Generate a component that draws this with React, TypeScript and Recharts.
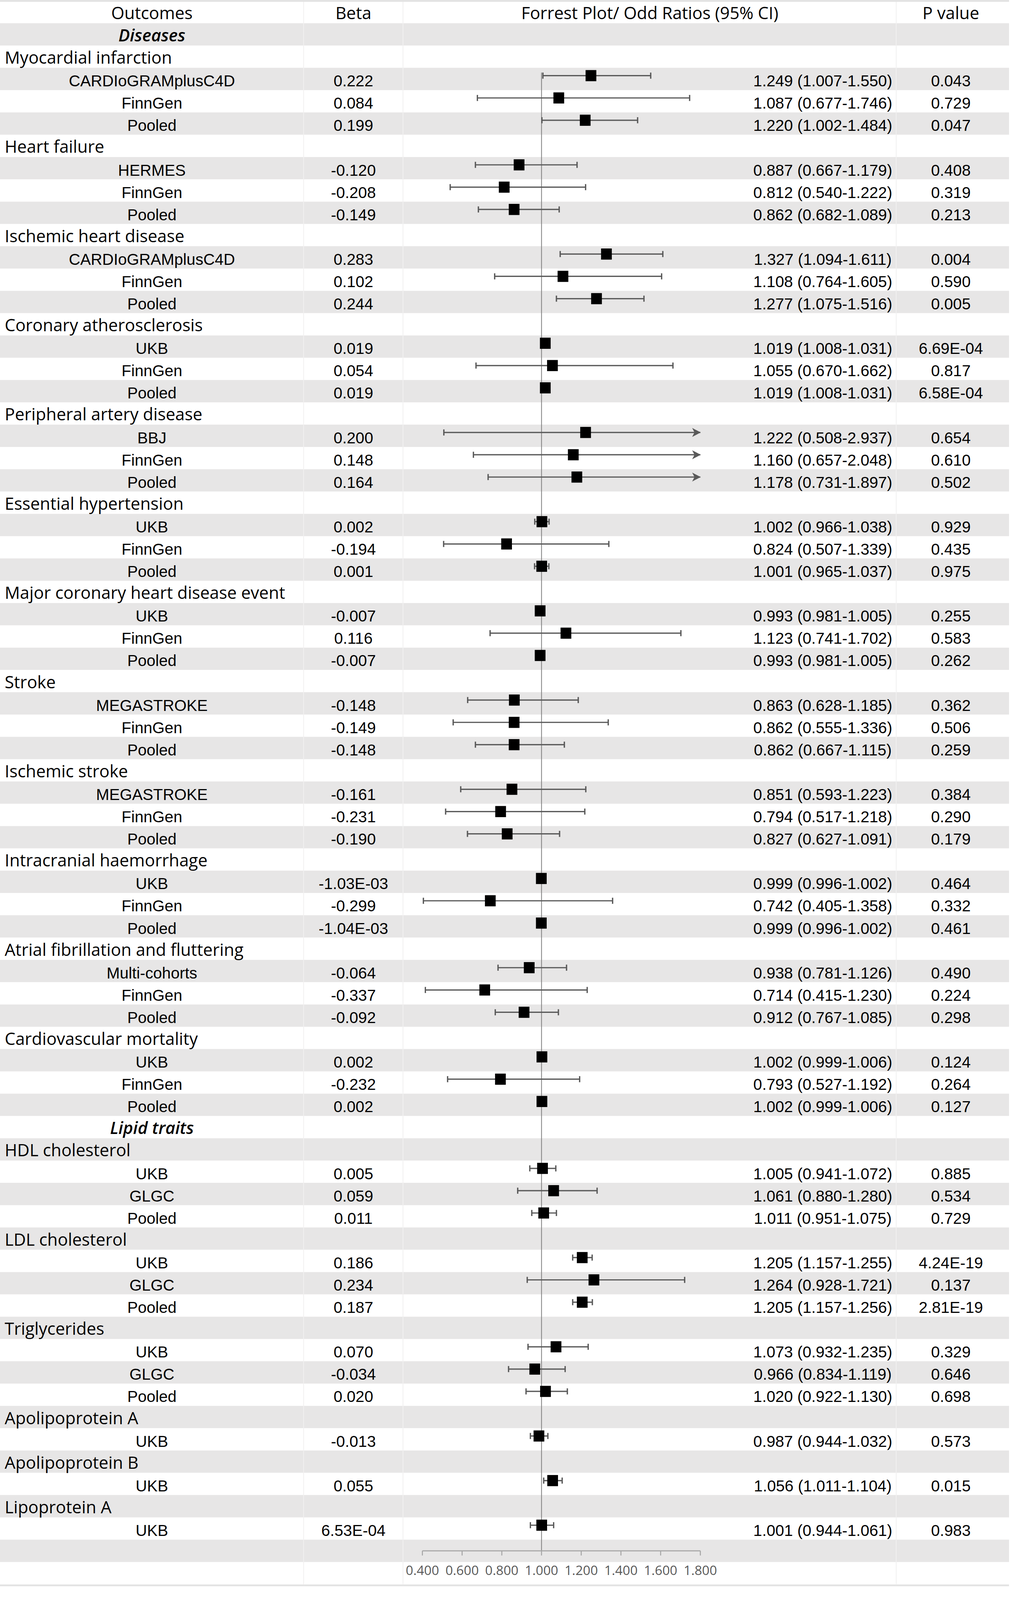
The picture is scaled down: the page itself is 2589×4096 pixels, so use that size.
import React from 'react';
import { ScatterChart, Scatter, XAxis, YAxis, ReferenceArea, ReferenceLine } from 'recharts';

// ---------------- data ----------------
const HEADERS = ['Outcomes', 'Beta', 'Forrest Plot/ Odd Ratios (95% CI)', 'P value'];
const SECTION_NAMES = ['Diseases', 'Lipid traits'];
const OUTCOME_NAMES = [
  'Myocardial infarction',
  'Heart failure',
  'Ischemic heart disease',
  'Coronary atherosclerosis',
  'Peripheral artery disease',
  'Essential hypertension',
  'Major coronary heart disease event',
  'Stroke',
  'Ischemic stroke',
  'Intracranial haemorrhage',
  'Atrial fibrillation and fluttering',
  'Cardiovascular mortality',
  'HDL cholesterol',
  'LDL cholesterol',
  'Triglycerides',
  'Apolipoprotein A',
  'Apolipoprotein B',
  'Lipoprotein A',
];
const OUTCOME_SECTION = [0, 0, 0, 0, 0, 0, 0, 0, 0, 0, 0, 0, 1, 1, 1, 1, 1, 1];
const OUTCOME_SIZES = [3, 3, 3, 3, 3, 3, 3, 3, 3, 3, 3, 3, 3, 3, 3, 1, 1, 1];

const COHORTS = [
  'CARDIoGRAMplusC4D', 'FinnGen', 'Pooled',
  'HERMES', 'FinnGen', 'Pooled',
  'CARDIoGRAMplusC4D', 'FinnGen', 'Pooled',
  'UKB', 'FinnGen', 'Pooled',
  'BBJ', 'FinnGen', 'Pooled',
  'UKB', 'FinnGen', 'Pooled',
  'UKB', 'FinnGen', 'Pooled',
  'MEGASTROKE', 'FinnGen', 'Pooled',
  'MEGASTROKE', 'FinnGen', 'Pooled',
  'UKB', 'FinnGen', 'Pooled',
  'Multi-cohorts', 'FinnGen', 'Pooled',
  'UKB', 'FinnGen', 'Pooled',
  'UKB', 'GLGC', 'Pooled',
  'UKB', 'GLGC', 'Pooled',
  'UKB', 'GLGC', 'Pooled',
  'UKB',
  'UKB',
  'UKB',
];
const BETAS = [
  '0.222', '0.084', '0.199',
  '-0.120', '-0.208', '-0.149',
  '0.283', '0.102', '0.244',
  '0.019', '0.054', '0.019',
  '0.200', '0.148', '0.164',
  '0.002', '-0.194', '0.001',
  '-0.007', '0.116', '-0.007',
  '-0.148', '-0.149', '-0.148',
  '-0.161', '-0.231', '-0.190',
  '-1.03E-03', '-0.299', '-1.04E-03',
  '-0.064', '-0.337', '-0.092',
  '0.002', '-0.232', '0.002',
  '0.005', '0.059', '0.011',
  '0.186', '0.234', '0.187',
  '0.070', '-0.034', '0.020',
  '-0.013',
  '0.055',
  '6.53E-04',
];
const ODDS = [
  1.249, 1.087, 1.220,
  0.887, 0.812, 0.862,
  1.327, 1.108, 1.277,
  1.019, 1.055, 1.019,
  1.222, 1.160, 1.178,
  1.002, 0.824, 1.001,
  0.993, 1.123, 0.993,
  0.863, 0.862, 0.862,
  0.851, 0.794, 0.827,
  0.999, 0.742, 0.999,
  0.938, 0.714, 0.912,
  1.002, 0.793, 1.002,
  1.005, 1.061, 1.011,
  1.205, 1.264, 1.205,
  1.073, 0.966, 1.020,
  0.987,
  1.056,
  1.001,
];
const LOWER = [
  1.007, 0.677, 1.002,
  0.667, 0.540, 0.682,
  1.094, 0.764, 1.075,
  1.008, 0.670, 1.008,
  0.508, 0.657, 0.731,
  0.966, 0.507, 0.965,
  0.981, 0.741, 0.981,
  0.628, 0.555, 0.667,
  0.593, 0.517, 0.627,
  0.996, 0.405, 0.996,
  0.781, 0.415, 0.767,
  0.999, 0.527, 0.999,
  0.941, 0.880, 0.951,
  1.157, 0.928, 1.157,
  0.932, 0.834, 0.922,
  0.944,
  1.011,
  0.944,
];
const UPPER = [
  1.550, 1.746, 1.484,
  1.179, 1.222, 1.089,
  1.611, 1.605, 1.516,
  1.031, 1.662, 1.031,
  2.937, 2.048, 1.897,
  1.038, 1.339, 1.037,
  1.005, 1.702, 1.005,
  1.185, 1.336, 1.115,
  1.223, 1.218, 1.091,
  1.002, 1.358, 1.002,
  1.126, 1.230, 1.085,
  1.006, 1.192, 1.006,
  1.072, 1.280, 1.075,
  1.255, 1.721, 1.256,
  1.235, 1.119, 1.130,
  1.032,
  1.104,
  1.061,
];
const P_VALUES = [
  '0.043', '0.729', '0.047',
  '0.408', '0.319', '0.213',
  '0.004', '0.590', '0.005',
  '6.69E-04', '0.817', '6.58E-04',
  '0.654', '0.610', '0.502',
  '0.929', '0.435', '0.975',
  '0.255', '0.583', '0.262',
  '0.362', '0.506', '0.259',
  '0.384', '0.290', '0.179',
  '0.464', '0.332', '0.461',
  '0.490', '0.224', '0.298',
  '0.124', '0.264', '0.127',
  '0.885', '0.534', '0.729',
  '4.24E-19', '0.137', '2.81E-19',
  '0.329', '0.646', '0.698',
  '0.573',
  '0.015',
  '0.983',
];
const X_TICKS = [0.4, 0.6, 0.8, 1.0, 1.2, 1.4, 1.6, 1.8];

// ---------------- layout / style ----------------
const W = 2589;
const H = 4096;
const ROW_PX = 57.09;
const TOP = 2.33;
const X_AT_FIRST_TICK = 1081.7;
const PX_PER_UNIT = 508.4;
const PLOT_RIGHT = 2584;
const X_MIN_TICK = X_TICKS[0];
const X_MAX_TICK = X_TICKS[X_TICKS.length - 1];
const XMIN = X_MIN_TICK - X_AT_FIRST_TICK / PX_PER_UNIT;
const XMAX = X_MIN_TICK + (PLOT_RIGHT - X_AT_FIRST_TICK) / PX_PER_UNIT;
const pxToVal = (px: number) => X_MIN_TICK + (px - X_AT_FIRST_TICK) / PX_PER_UNIT;

const OPEN = "'Open Sans', 'Noto Sans', sans-serif";
const LIB = "'Liberation Sans', Arial, sans-serif";
const BAND = '#e7e6e6';
const CI = '#595959';
const AXIS = '#a6a6a6';
const MARK_NUDGE = -8.5 / ROW_PX;
const CAP_HALF = 7.8;

const COL_OUTCOME = 389;
const COL_BETA = 905;
const COL_OR_HEAD = 1664;
const COL_OR = 2107;
const COL_P = 2435;
const GROUP_LEFT = 12;

// ---------------- table rows ----------------
type Row = { kind: 'header' } | { kind: 'section'; text: string } | { kind: 'outcome'; text: string } | { kind: 'result'; i: number };
const ROWS: Row[] = [{ kind: 'header' }];
const RESULT_ROW: number[] = [];
{
  let k = 0;
  OUTCOME_NAMES.forEach((name, g) => {
    if (g === 0 || OUTCOME_SECTION[g] !== OUTCOME_SECTION[g - 1]) {
      ROWS.push({ kind: 'section', text: SECTION_NAMES[OUTCOME_SECTION[g]] });
    }
    ROWS.push({ kind: 'outcome', text: name });
    for (let j = 0; j < OUTCOME_SIZES[g]; j++) {
      RESULT_ROW.push(ROWS.length);
      ROWS.push({ kind: 'result', i: k });
      k++;
    }
  });
}
const AXIS_ROW = ROWS.length; // 69
const LABEL_ROW = AXIS_ROW + 1; // 70
const ROW_TICKS = ROWS.map((_, i) => i);
const BAND_ROWS: number[] = [];
for (let r = 1; r <= AXIS_ROW; r += 2) BAND_ROWS.push(r);
const PLOT_BOTTOM = TOP + (AXIS_ROW + 0.5) * ROW_PX;

const MARKERS = ODDS.map((v, i) => ({ x: v, y: RESULT_ROW[i] + MARK_NUDGE }));
const CI_SERIES = ODDS.map((_, i) => [
  { x: LOWER[i], y: RESULT_ROW[i] + MARK_NUDGE, end: 'cap' },
  { x: Math.min(UPPER[i], X_MAX_TICK), y: RESULT_ROW[i] + MARK_NUDGE, end: UPPER[i] > X_MAX_TICK ? 'arrow' : 'cap' },
]);
const FIRST_MARK_ROW = RESULT_ROW[0];
const REF_TOP = FIRST_MARK_ROW + MARK_NUDGE - CAP_HALF / ROW_PX;
const SEPARATORS = [777.5, 1032, 2295].map(pxToVal);

// ---------------- renderers ----------------
const RowText = (props: any) => {
  const { y, payload } = props;
  const row = ROWS[payload.value];
  if (!row) return null;
  const bo = y + 18;
  const bl = y + 19;
  if (row.kind === 'header') {
    return (
      <g fontFamily={OPEN} fontSize={43.5} fill="#000">
        <text x={COL_OUTCOME} y={bo} textAnchor="middle">{HEADERS[0]}</text>
        <text x={COL_BETA} y={bo} textAnchor="middle">{HEADERS[1]}</text>
        <text x={COL_OR_HEAD} y={bo} textAnchor="middle">{HEADERS[2]}</text>
        <text x={COL_P} y={bo} textAnchor="middle">{HEADERS[3]}</text>
      </g>
    );
  }
  if (row.kind === 'section') {
    return (
      <text x={COL_OUTCOME} y={bo} textAnchor="middle" fontFamily={OPEN} fontSize={43.5} fontStyle="italic" fontWeight={600} fill="#000">
        {row.text}
      </text>
    );
  }
  if (row.kind === 'outcome') {
    return (
      <text x={GROUP_LEFT} y={bo} textAnchor="start" fontFamily={OPEN} fontSize={43.5} fill="#000">
        {row.text}
      </text>
    );
  }
  const i = row.i;
  const orText = `${ODDS[i].toFixed(3)} (${LOWER[i].toFixed(3)}-${UPPER[i].toFixed(3)})`;
  return (
    <g fontFamily={LIB} fontSize={40.5} fill="#000">
      <text x={COL_OUTCOME} y={bl} textAnchor="middle">{COHORTS[i]}</text>
      <text x={COL_BETA} y={bl} textAnchor="middle">{BETAS[i]}</text>
      <text x={COL_OR} y={bl} textAnchor="middle">{orText}</text>
      <text x={COL_P} y={bl} textAnchor="middle">{P_VALUES[i]}</text>
    </g>
  );
};

const XTick = (props: any) => {
  const { x, y, payload } = props;
  return (
    <text x={x} y={y + 49.6} textAnchor="middle" fontFamily={OPEN} fontSize={33.5} fill="#595959">
      {Number(payload.value).toFixed(3)}
    </text>
  );
};

const Square = (props: any) => {
  const { cx, cy } = props;
  if (cx == null || cy == null) return null;
  return <rect x={cx - 13.75} y={cy - 14.25} width={27.5} height={28.5} fill="#000" />;
};

const CiEnd = (props: any) => {
  const { cx, cy, payload } = props;
  if (cx == null || cy == null) return null;
  if (payload && payload.end === 'arrow') {
    return <path d={`M${cx + 1},${cy} L${cx - 21},${cy - 11.5} L${cx - 15},${cy} L${cx - 21},${cy + 11.5} Z`} fill={CI} />;
  }
  return <line x1={cx} x2={cx} y1={cy - CAP_HALF} y2={cy + CAP_HALF} stroke={CI} strokeWidth={3.4} />;
};

export default function App() {
  return (
    <div style={{ position: 'absolute', left: 0, top: 0, width: W, height: H, background: '#fff' }}>
      <ScatterChart
        width={W}
        height={H}
        margin={{ top: TOP, right: W - PLOT_RIGHT, bottom: 0, left: 0 }}
      >
        {BAND_ROWS.map((r) => (
          <ReferenceArea
            key={`band-${r}`}
            x1={XMIN}
            x2={XMAX}
            y1={r - 0.5}
            y2={r + 0.5}
            fill={BAND}
            fillOpacity={1}
            stroke="none"
            ifOverflow="visible"
          />
        ))}
        {SEPARATORS.map((v, i) => (
          <ReferenceLine
            key={`sep-${i}`}
            segment={[{ x: v, y: -0.5 }, { x: v, y: LABEL_ROW + 0.5 }]}
            stroke="#f1f0f0"
            strokeWidth={2}
            ifOverflow="visible"
          />
        ))}
        <ReferenceLine y={-0.5} stroke="#e3e3e3" strokeWidth={4.6} ifOverflow="visible" />
        <ReferenceLine y={LABEL_ROW + 0.55} stroke="#e3e3e3" strokeWidth={4.6} ifOverflow="visible" />
        <XAxis
          type="number"
          dataKey="x"
          domain={[XMIN, XMAX]}
          allowDataOverflow
          ticks={X_TICKS}
          interval={0}
          axisLine={false}
          tickLine={{ stroke: AXIS, strokeWidth: 2.6 }}
          tickSize={12}
          tickMargin={0}
          tick={XTick}
          height={H - PLOT_BOTTOM}
        />
        <YAxis
          type="number"
          dataKey="y"
          domain={[-0.5, AXIS_ROW]}
          allowDataOverflow
          reversed
          mirror
          ticks={ROW_TICKS}
          interval={0}
          axisLine={false}
          tickLine={false}
          tick={RowText}
        />
        <ReferenceLine
          segment={[{ x: 1, y: REF_TOP }, { x: 1, y: AXIS_ROW }]}
          stroke="#7f7f7f"
          strokeWidth={2}
          ifOverflow="visible"
        />
        <ReferenceLine
          segment={[{ x: X_MIN_TICK, y: AXIS_ROW }, { x: X_MAX_TICK, y: AXIS_ROW }]}
          stroke={AXIS}
          strokeWidth={2.8}
          ifOverflow="visible"
        />
        {CI_SERIES.map((d, i) => (
          <Scatter
            key={`ci-${i}`}
            data={d}
            line={{ stroke: CI, strokeWidth: 3.2 }}
            stroke={CI}
            fill={CI}
            shape={CiEnd}
            isAnimationActive={false}
          />
        ))}
        <Scatter data={MARKERS} fill="#000" shape={Square} isAnimationActive={false} />
      </ScatterChart>
    </div>
  );
}
